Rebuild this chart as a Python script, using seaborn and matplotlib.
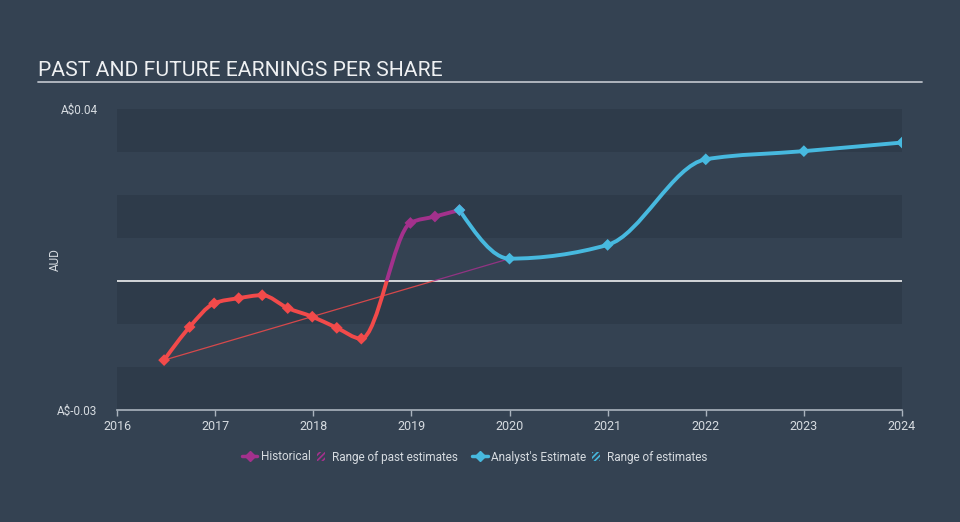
import numpy as np
import pandas as pd
import matplotlib
matplotlib.use("Agg")
import matplotlib.pyplot as plt
import seaborn as sns
from matplotlib.path import Path
from matplotlib.patches import PathPatch, Rectangle, Patch
from matplotlib.lines import Line2D
from matplotlib.legend_handler import HandlerPatch

# ---------------- data ----------------
hist_years = [2016.48, 2016.74, 2016.99, 2017.24, 2017.48, 2017.74, 2017.99, 2018.24, 2018.49,
              2018.99, 2019.24, 2019.49]
hist_eps = [-0.0184, -0.0107, -0.0052, -0.0040, -0.0033, -0.0063, -0.0083, -0.0109, -0.0134,
            0.0135, 0.0150, 0.0165]
fc_years = [2019.49, 2020.0, 2021.0, 2022.0, 2023.0, 2024.0]
fc_eps = [0.0165, 0.0052, 0.0084, 0.0283, 0.0302, 0.0322]
past_range_years = [2016.48, 2020.0]
past_range_eps = [-0.0184, 0.0052]
x_ticks = [2016, 2017, 2018, 2019, 2020, 2021, 2022, 2023, 2024]
y_ticks = [-0.03, 0.04]
y_ticklabels = ["A$-0.03", "A$0.04"]
title = "PAST AND FUTURE EARNINGS PER SHARE"

# ---------------- style ----------------
BG = "#344252"
BAND = "#2e3b4a"
RED = "#f24a4a"
PURPLE = "#a3318c"
BLUE = "#47b9df"
TXT = "#d6dbe0"

sns.set_theme(style="dark")
plt.rcParams["font.family"] = ["Roboto", "DejaVu Sans"]
plt.rcParams["hatch.linewidth"] = 1.2

fig = plt.figure(figsize=(9.6, 5.22), dpi=100)
fig.patch.set_facecolor(BG)
ax = fig.add_axes([117 / 960, 1 - 410 / 522, (902 - 117) / 960, (410 - 109) / 522])
ax.set_facecolor(BG)
ax.set_xlim(2016, 2024)
ax.set_ylim(-0.03, 0.04)

for lo in [-0.03, -0.01, 0.01, 0.03]:
    ax.axhspan(lo, lo + 0.01, color=BAND, lw=0, zorder=0)
ax.axhline(0, color="white", lw=1.1, zorder=1)


def monotone_path(xs, ys):
    xs = np.asarray(xs, float)
    ys = np.asarray(ys, float)
    n = len(xs)
    h = np.diff(xs)
    s = np.diff(ys) / h
    t = np.zeros(n)
    for i in range(1, n - 1):
        p = (s[i - 1] * h[i] + s[i] * h[i - 1]) / (h[i - 1] + h[i])
        t[i] = (np.sign(s[i - 1]) + np.sign(s[i])) * min(abs(s[i - 1]), abs(s[i]), 0.5 * abs(p))
    t[0] = (3 * s[0] - t[1]) / 2 if n > 2 else s[0]
    t[-1] = (3 * s[-1] - t[-2]) / 2 if n > 2 else s[-1]
    verts = [(xs[0], ys[0])]
    codes = [Path.MOVETO]
    for i in range(n - 1):
        d = h[i] / 3
        verts += [(xs[i] + d, ys[i] + d * t[i]), (xs[i + 1] - d, ys[i + 1] - d * t[i + 1]),
                  (xs[i + 1], ys[i + 1])]
        codes += [Path.CURVE4] * 3
    return Path(verts, codes)


def clip_rects():
    below = Rectangle((2010, -1), 20, 1, transform=ax.transData)
    above = Rectangle((2010, 0), 20, 1, transform=ax.transData)
    return below, above


# range of past estimates (thin line)
below, above = clip_rects()
l1, = ax.plot(past_range_years, past_range_eps, color=RED, lw=0.9, alpha=0.85, zorder=2)
l1.set_clip_path(below)
l2, = ax.plot(past_range_years, past_range_eps, color=PURPLE, lw=0.9, alpha=0.85, zorder=2)
l2.set_clip_path(above)

# historical smooth line, coloured by sign
hpath = monotone_path(hist_years, hist_eps)
below, above = clip_rects()
pr = PathPatch(hpath, facecolor="none", edgecolor=RED, lw=2.8, zorder=3, capstyle="round")
ax.add_patch(pr)
pr.set_clip_path(below)
pp = PathPatch(hpath, facecolor="none", edgecolor=PURPLE, lw=2.8, zorder=3, capstyle="round")
ax.add_patch(pp)
pp.set_clip_path(above)

# forecast smooth line
fpath = monotone_path(fc_years, fc_eps)
ax.add_patch(PathPatch(fpath, facecolor="none", edgecolor=BLUE, lw=2.8, zorder=3, capstyle="round"))

hist_df = pd.DataFrame({"year": hist_years, "eps": hist_eps})
hist_df["sign"] = np.where(hist_df["eps"] < 0, "neg", "pos")
sns.scatterplot(data=hist_df, x="year", y="eps", hue="sign", palette={"neg": RED, "pos": PURPLE},
                marker="D", s=36, edgecolor="none", legend=False, ax=ax, zorder=4)
fc_df = pd.DataFrame({"year": fc_years, "eps": fc_eps})
sns.scatterplot(data=fc_df, x="year", y="eps", color=BLUE, marker="D", s=36, edgecolor="none",
                legend=False, ax=ax, zorder=5)

# axes styling
for sp in ["top", "right", "left"]:
    ax.spines[sp].set_visible(False)
ax.spines["bottom"].set_color("#aab4be")
ax.spines["bottom"].set_linewidth(1.2)
ax.set_xticks(x_ticks)
ax.set_xticklabels([str(v) for v in x_ticks])
ax.set_yticks(y_ticks)
ax.set_yticklabels(y_ticklabels)
ax.tick_params(axis="x", bottom=True, length=4, width=1, color="#aab4be", colors=TXT,
               labelsize=9, pad=3)
ax.tick_params(axis="y", left=False, length=0, colors=TXT, labelsize=8.5, pad=14)
ax.set_xlabel("")
ax.set_ylabel("AUD", color=TXT, fontsize=8.5)
ax.yaxis.set_label_coords((62 - 117) / 785, 0.5)
ax.grid(False)

# title + underline
fig.text(38 / 960, 1 - 70 / 522, title, color="#eef0f2", fontsize=15.2, va="center", ha="left")
fig.add_artist(Line2D([38 / 960, 922 / 960], [1 - 82 / 522, 1 - 82 / 522], color="#b8bec6", lw=1.3))


# legend: narrow hatch handles
def narrow_hatch(legend, orig_handle, xdescent, ydescent, width, height, fontsize):
    w = width * 0.5
    return Rectangle((-xdescent + (width - w) / 2, -ydescent), w, height)


hmap = {Patch: HandlerPatch(patch_func=narrow_hatch)}
common = dict(frameon=False, fontsize=8.5, labelcolor=TXT, handlelength=1.3, handletextpad=0.3,
              columnspacing=0.2, handleheight=0.8, ncol=2, loc="center", handler_map=hmap)
h1 = [Line2D([], [], color=PURPLE, marker="D", lw=2.5, markersize=5),
      Patch(facecolor="none", edgecolor=PURPLE, hatch="//////", lw=0)]
leg1 = fig.legend(h1, ["Historical", "Range of past estimates"],
                  bbox_to_anchor=(350 / 960, 1 - 457 / 522), **common)
h2 = [Line2D([], [], color=BLUE, marker="D", lw=2.5, markersize=5),
      Patch(facecolor="none", edgecolor=BLUE, hatch="//////", lw=0)]
leg2 = fig.legend(h2, ["Analyst's Estimate", "Range of estimates"],
                  bbox_to_anchor=(590 / 960, 1 - 457 / 522), **common)

fig.savefig("out.png", dpi=100, facecolor=fig.get_facecolor())
